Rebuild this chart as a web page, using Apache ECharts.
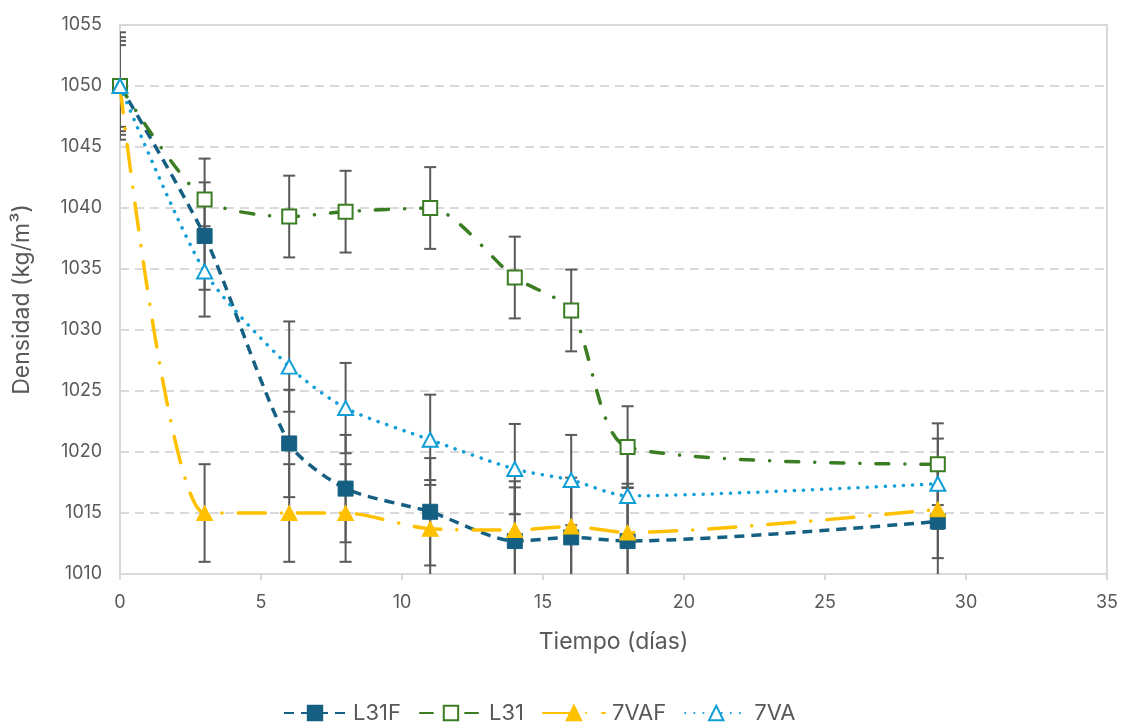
<!DOCTYPE html>
<html>
<head>
<meta charset="utf-8">
<script src="https://cdn.jsdelivr.net/npm/echarts@6/dist/echarts.min.js"></script>
<style>
  html, body { margin: 0; padding: 0; background: #fff; }
  #main { width: 1125px; height: 724px; }
</style>
</head>
<body>
<div id="main"></div>
<script>
var days = [0, 3, 6, 8, 11, 14, 16, 18, 29];
var l31f = [1050, 1037.7, 1020.7, 1017.0, 1015.1, 1012.7, 1013.0, 1012.7, 1014.3];
var l31 = [1050, 1040.7, 1039.3, 1039.7, 1040.0, 1034.3, 1031.6, 1020.4, 1019.0];
var vaf7 = [1050, 1015.0, 1015.0, 1015.0, 1013.7, 1013.6, 1013.9, 1013.4, 1015.3];
var va7 = [1050, 1034.8, 1027.0, 1023.6, 1021.0, 1018.6, 1017.7, 1016.4, 1017.4];
var errL31F = [4.4, 4.4, 4.4, 4.4, 4.4, 4.4, 4.4, 4.4, 4.4];
var errL31 = [3.35, 3.35, 3.35, 3.35, 3.35, 3.35, 3.35, 3.35, 3.35];
var err7VAF = [4, 4, 4, 4, 4, 4, 4, 4, 4];
var err7VA = [3.7, 3.7, 3.7, 3.7, 3.7, 3.7, 3.7, 3.7, 3.7];

var font = 'Inter, "Noto Sans", sans-serif';
var grey = '#595959';

function pairs(ys) {
  return days.map(function (d, i) { return [d, ys[i]]; });
}

function errData(ys, errs) {
  return days.map(function (d, i) { return [d, ys[i] - errs[i], ys[i] + errs[i]]; });
}

function errSeries(ys, errs) {
  return {
    type: 'custom',
    z: 1,
    clip: true,
    silent: true,
    data: errData(ys, errs),
    encode: { x: 0, y: [1, 2] },
    renderItem: function (params, api) {
      var lo = api.coord([api.value(0), api.value(1)]);
      var hi = api.coord([api.value(0), api.value(2)]);
      var w = 6;
      var st = { stroke: grey, lineWidth: 2 };
      return {
        type: 'group',
        children: [
          { type: 'line', shape: { x1: lo[0], y1: lo[1], x2: hi[0], y2: hi[1] }, style: st },
          { type: 'line', shape: { x1: lo[0] - w, y1: lo[1], x2: lo[0] + w, y2: lo[1] }, style: st },
          { type: 'line', shape: { x1: hi[0] - w, y1: hi[1], x2: hi[0] + w, y2: hi[1] }, style: st }
        ]
      };
    }
  };
}

var chart = echarts.init(document.getElementById('main'));

var option = {
  backgroundColor: '#fff',
  animation: false,
  textStyle: { fontFamily: font },
  grid: {
    left: 120, right: 18, top: 25, bottom: 150,
    show: true, borderColor: '#d9d9d9', borderWidth: 2
  },
  legend: {
    left: 278, top: 697,
    itemWidth: 62, itemHeight: 18, itemGap: 18,
    textStyle: { fontSize: 22, color: grey, fontFamily: font, padding: [0, 0, 0, 2] },
    data: ['L31F', 'L31', '7VAF', '7VA']
  },
  xAxis: {
    type: 'value', min: 0, max: 35, interval: 5,
    name: 'Tiempo (días)', nameLocation: 'middle', nameGap: 57,
    nameTextStyle: { fontSize: 23, color: grey },
    axisLine: { show: true, lineStyle: { color: '#d9d9d9', width: 2 } },
    axisTick: { show: true, length: 6, lineStyle: { color: '#d9d9d9', width: 2 } },
    axisLabel: { fontSize: 18, color: grey, margin: 20 },
    splitLine: { show: false }
  },
  yAxis: {
    type: 'value', min: 1010, max: 1055, interval: 5,
    name: 'Densidad (kg/m³)', nameLocation: 'middle', nameGap: 86,
    nameTextStyle: { fontSize: 23, color: grey },
    axisLine: { show: true, lineStyle: { color: '#d9d9d9', width: 2 } },
    axisTick: { show: false },
    axisLabel: { fontSize: 18, color: grey, margin: 18, formatter: function (v) { return String(v); } },
    splitLine: { show: true, lineStyle: { color: '#d9d9d9', width: 2, type: [9, 6] } }
  },
  series: [
    errSeries(l31f, errL31F),
    errSeries(l31, errL31),
    errSeries(vaf7, err7VAF),
    errSeries(va7, err7VA),
    {
      name: 'L31F', type: 'line', z: 3, smooth: 0.25,
      data: pairs(l31f),
      symbol: 'rect', symbolSize: 15,
      itemStyle: { color: '#156082', borderColor: '#156082', borderWidth: 1 },
      lineStyle: { color: '#156082', width: 3.5, type: [10, 7] }
    },
    {
      name: 'L31', type: 'line', z: 4, smooth: 0.25,
      data: pairs(l31),
      symbol: 'rect', symbolSize: 14,
      itemStyle: { color: '#ffffff', borderColor: '#3b7d23', borderWidth: 2 },
      lineStyle: { color: '#3b7d23', width: 3.5, type: [13, 16, 0.1, 16], cap: 'round' }
    },
    {
      name: '7VAF', type: 'line', z: 5, smooth: 0.25,
      data: pairs(vaf7),
      symbol: 'triangle', symbolSize: [16, 15],
      itemStyle: { color: '#ffc000', borderColor: '#ffc000', borderWidth: 1 },
      lineStyle: { color: '#ffc000', width: 3.5, type: [27, 16, 0.1, 16], cap: 'round' }
    },
    {
      name: '7VA', type: 'line', z: 6, smooth: 0.25,
      data: pairs(va7),
      symbol: 'triangle', symbolSize: [15, 14],
      itemStyle: { color: '#ffffff', borderColor: '#0f9ed5', borderWidth: 2 },
      lineStyle: { color: '#0f9ed5', width: 3.5, type: [0.1, 9], cap: 'round' }
    }
  ]
};

chart.setOption(option);
</script>
</body>
</html>
